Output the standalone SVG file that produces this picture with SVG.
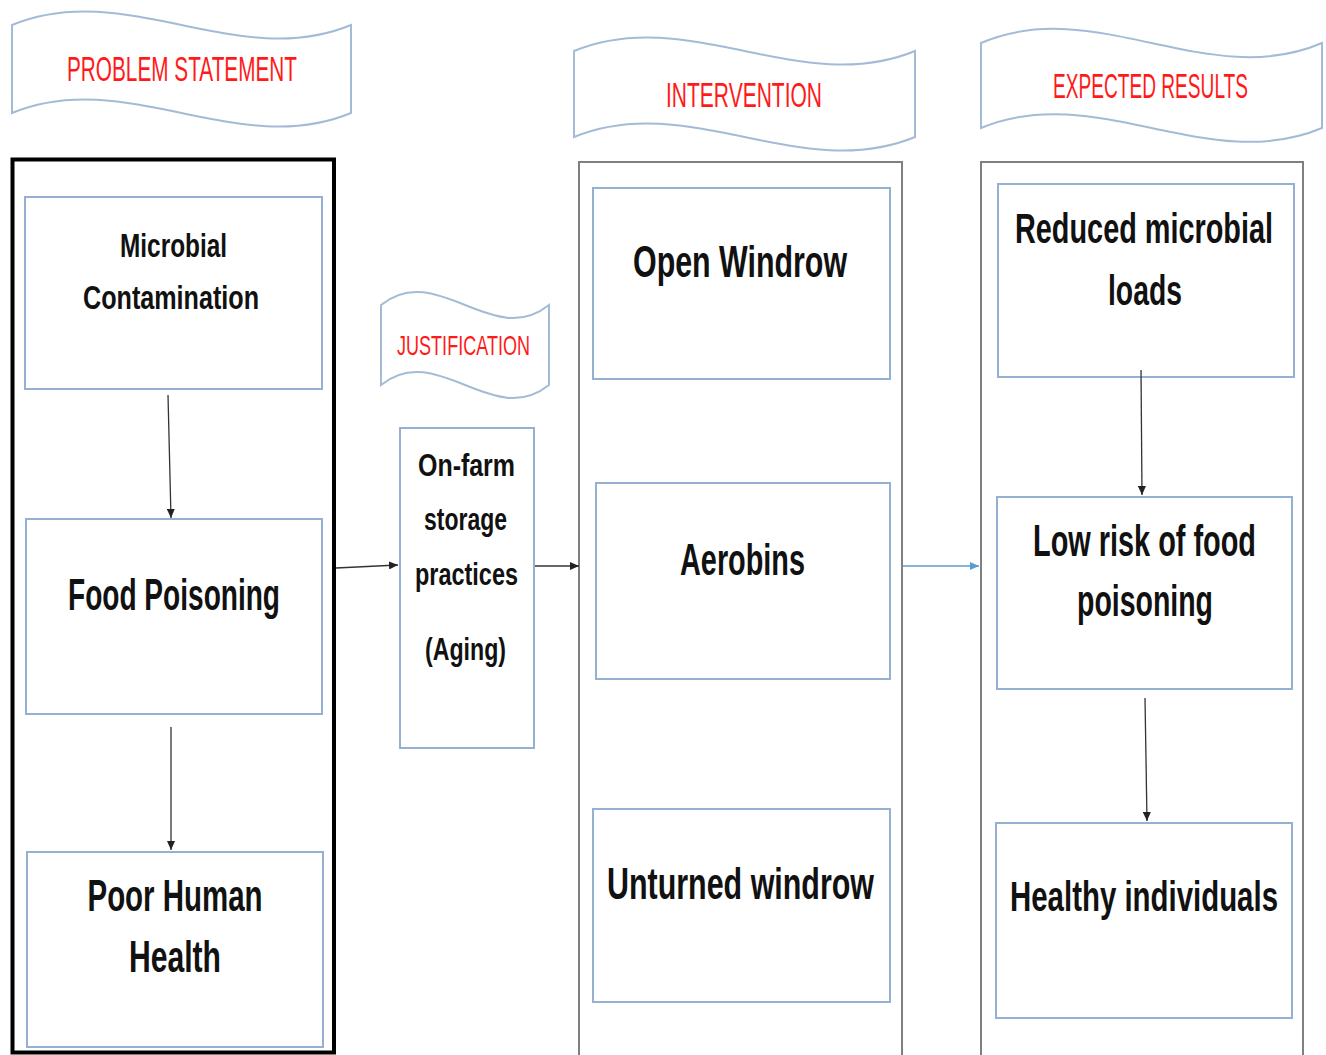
<svg xmlns="http://www.w3.org/2000/svg" width="1326" height="1055" viewBox="0 0 1326 1055">
<style>
.bg{fill:#ffffff}
.banner{fill:#ffffff;stroke:#a3bbd6;stroke-width:2}
.outer{fill:none;stroke:#808080;stroke-width:2}
.outerb{fill:none;stroke:#000000;stroke-width:4}
.box{fill:#ffffff;stroke:#94b0d2;stroke-width:2}
.title{font-family:"Liberation Sans",Arial,sans-serif;fill:#ff1a1a;text-anchor:middle}
.lbl{font-family:"Liberation Sans",Arial,sans-serif;fill:#111111;text-anchor:middle;font-weight:bold}
.conn{fill:none;stroke:#333333;stroke-width:1.3}
.connb{fill:none;stroke:#5b9bd5;stroke-width:1.5}
</style>
<defs>
<marker id="ah" markerUnits="userSpaceOnUse" markerWidth="10" markerHeight="8" refX="9" refY="4" orient="auto">
<path d="M0,0 L9,4 L0,8 Z" fill="#222222"/>
</marker>
<marker id="ahb" markerUnits="userSpaceOnUse" markerWidth="10" markerHeight="8" refX="9" refY="4" orient="auto">
<path d="M0,0 L9,4 L0,8 Z" fill="#5b9bd5"/>
</marker>
</defs>
<rect class="bg" x="0" y="0" width="1326" height="1055"/>

<g id="banner-problem">
<path class="banner" d="M12,25 C125,-22 238,72 351,25 L351,113 C238,160 125,66 12,113 Z"/>
<text class="title" transform="translate(182,81) scale(1,1.3)" font-size="27" textLength="230" lengthAdjust="spacingAndGlyphs">PROBLEM STATEMENT</text>
</g>
<g id="banner-intervention">
<path class="banner" d="M574,51 C688,4 801,98 915,51 L915,137 C801,184 688,90 574,137 Z"/>
<text class="title" transform="translate(744,107) scale(1,1.3)" font-size="27" textLength="156" lengthAdjust="spacingAndGlyphs">INTERVENTION</text>
</g>
<g id="banner-justification">
<path class="banner" d="M381,305 C437,260 493,350 549,305 L549,385 C493,430 437,340 381,385 Z"/>
<text class="title" transform="translate(463.5,355) scale(1,1.3)" font-size="21.5" textLength="133" lengthAdjust="spacingAndGlyphs">JUSTIFICATION</text>
</g>
<g id="banner-expected">
<path class="banner" d="M981,43 C1095,-6 1208,92 1322,43 L1322,128 C1208,176 1095,80 981,128 Z"/>
<text class="title" transform="translate(1150.5,98) scale(1,1.3)" font-size="27" textLength="195" lengthAdjust="spacingAndGlyphs">EXPECTED RESULTS</text>
</g>

<g id="group-problem">
<rect class="outerb" x="12.5" y="159.5" width="321.5" height="893"/>
</g>
<g id="group-intervention">
<rect class="outer" x="579" y="162" width="323" height="900"/>
</g>
<g id="group-expected">
<rect class="outer" x="981" y="162" width="322" height="900"/>
</g>

<g id="node-microbial">
<rect class="box" x="25" y="197" width="297" height="192"/>
<text class="lbl" transform="translate(173.5,257) scale(1,1.3)" font-size="25.5" textLength="107" lengthAdjust="spacingAndGlyphs">Microbial</text>
<text class="lbl" transform="translate(171,309) scale(1,1.3)" font-size="25.5" textLength="176" lengthAdjust="spacingAndGlyphs">Contamination</text>
</g>
<g id="node-food-poisoning">
<rect class="box" x="26" y="519" width="296" height="195"/>
<text class="lbl" transform="translate(174,610) scale(1,1.3)" font-size="34" textLength="212" lengthAdjust="spacingAndGlyphs">Food Poisoning</text>
</g>
<g id="node-poor-health">
<rect class="box" x="27" y="852" width="296" height="195"/>
<text class="lbl" transform="translate(175,911) scale(1,1.3)" font-size="34" textLength="175" lengthAdjust="spacingAndGlyphs">Poor Human</text>
<text class="lbl" transform="translate(175,972) scale(1,1.3)" font-size="34" textLength="92" lengthAdjust="spacingAndGlyphs">Health</text>
</g>
<g id="node-onfarm">
<rect class="box" x="400" y="428" width="134" height="320"/>
<text class="lbl" transform="translate(466.5,476) scale(1,1.3)" font-size="24.5" textLength="97" lengthAdjust="spacingAndGlyphs">On-farm</text>
<text class="lbl" transform="translate(465.5,530) scale(1,1.3)" font-size="24.5" textLength="83" lengthAdjust="spacingAndGlyphs">storage</text>
<text class="lbl" transform="translate(466.5,585) scale(1,1.3)" font-size="24.5" textLength="103" lengthAdjust="spacingAndGlyphs">practices</text>
<text class="lbl" transform="translate(465.5,660) scale(1,1.3)" font-size="24.5" textLength="81" lengthAdjust="spacingAndGlyphs">(Aging)</text>
</g>
<g id="node-open-windrow">
<rect class="box" x="593" y="188" width="297" height="191"/>
<text class="lbl" transform="translate(740,277) scale(1,1.3)" font-size="34" textLength="214" lengthAdjust="spacingAndGlyphs">Open Windrow</text>
</g>
<g id="node-aerobins">
<rect class="box" x="596" y="483" width="294" height="196"/>
<text class="lbl" transform="translate(742.5,575) scale(1,1.3)" font-size="34" textLength="125" lengthAdjust="spacingAndGlyphs">Aerobins</text>
</g>
<g id="node-unturned">
<rect class="box" x="593" y="809" width="297" height="193"/>
<text class="lbl" transform="translate(740.5,899) scale(1,1.3)" font-size="34" textLength="267" lengthAdjust="spacingAndGlyphs">Unturned windrow</text>
</g>
<g id="node-reduced">
<rect class="box" x="998" y="184" width="296" height="193"/>
<text class="lbl" transform="translate(1144,243) scale(1,1.3)" font-size="33" textLength="258" lengthAdjust="spacingAndGlyphs">Reduced microbial</text>
<text class="lbl" transform="translate(1145,305) scale(1,1.3)" font-size="33" textLength="74" lengthAdjust="spacingAndGlyphs">loads</text>
</g>
<g id="node-low-risk">
<rect class="box" x="997" y="497" width="295" height="192"/>
<text class="lbl" transform="translate(1144.5,556) scale(1,1.3)" font-size="34" textLength="223" lengthAdjust="spacingAndGlyphs">Low risk of food</text>
<text class="lbl" transform="translate(1145,616) scale(1,1.3)" font-size="34" textLength="136" lengthAdjust="spacingAndGlyphs">poisoning</text>
</g>
<g id="node-healthy">
<rect class="box" x="996" y="823" width="296" height="195"/>
<text class="lbl" transform="translate(1144,911) scale(1,1.3)" font-size="33" textLength="268" lengthAdjust="spacingAndGlyphs">Healthy individuals</text>
</g>

<g id="connectors">
<path class="conn" marker-end="url(#ah)" d="M168,395 L171,518"/>
<path class="conn" marker-end="url(#ah)" d="M171,727 L171,850"/>
<path class="conn" marker-end="url(#ah)" d="M336,568 L398,565"/>
<path class="conn" marker-end="url(#ah)" d="M535,566 L579,566"/>
<path class="connb" marker-end="url(#ahb)" d="M903,566 L979,566"/>
<path class="conn" marker-end="url(#ah)" d="M1141,370 L1142,495"/>
<path class="conn" marker-end="url(#ah)" d="M1145,698 L1147,821"/>
</g>
</svg>
